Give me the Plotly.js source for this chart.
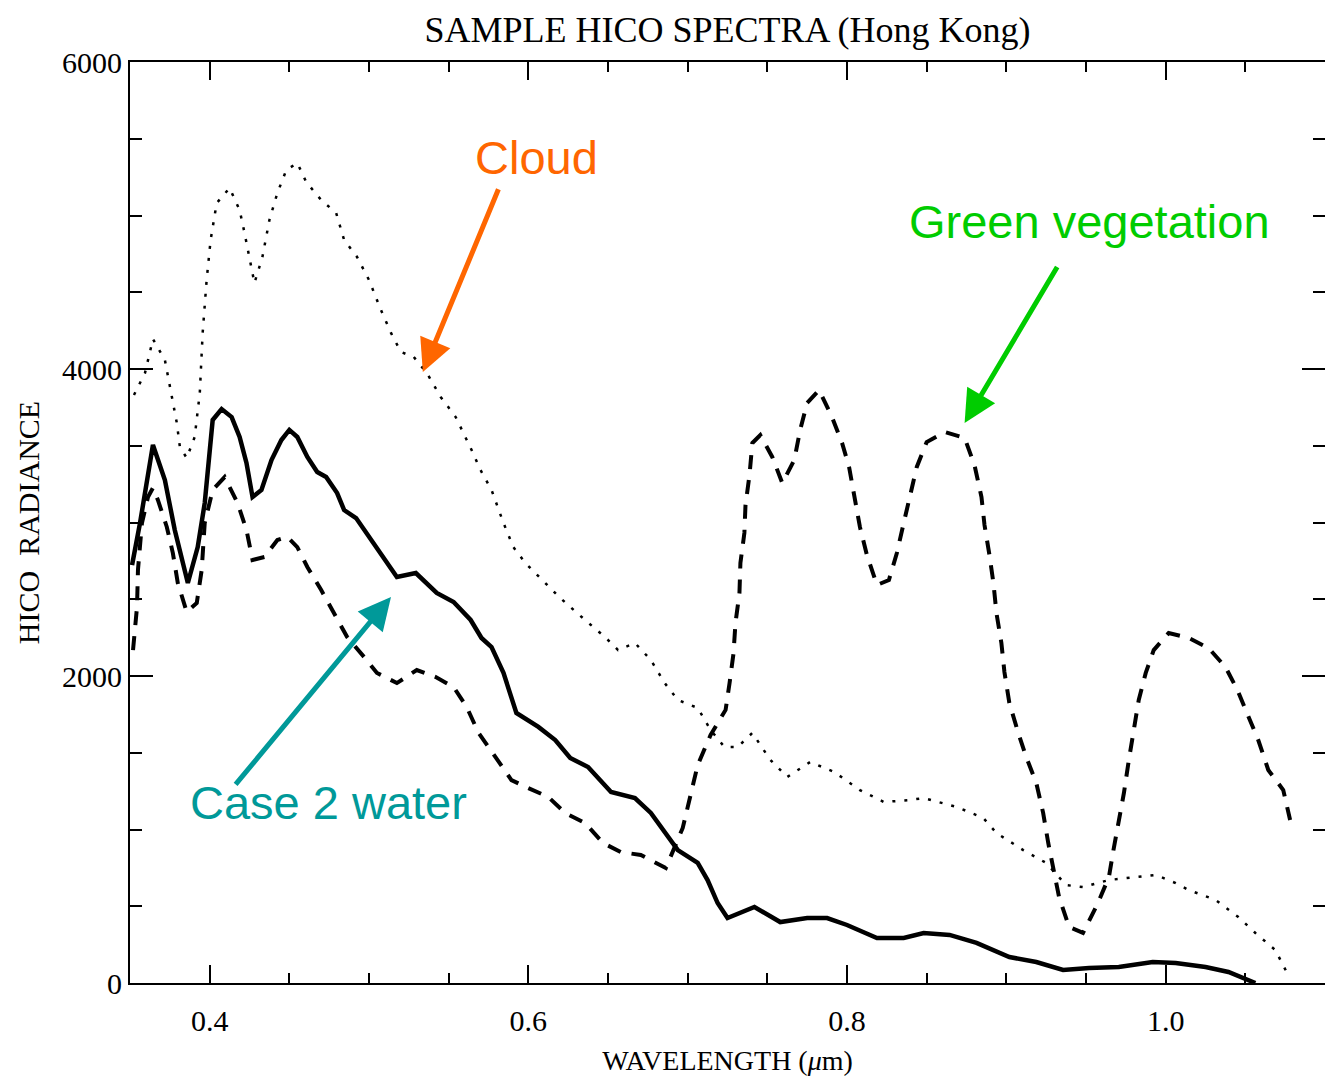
<!DOCTYPE html>
<html>
<head>
<meta charset="utf-8">
<script src="https://cdn.plot.ly/plotly-3.0.1.min.js"></script>
<style>html,body{margin:0;padding:0;background:#fff;}#chart{width:1325px;height:1085px;}</style>
</head>
<body>
<div id="chart"></div>
<script>
// Cloud spectrum (dotted)
const cloudWl = [0.3525,0.3594,0.3644,0.3719,0.3763,0.3794,0.3813,0.3856,0.3906,0.3938,0.3956,0.3981,0.4006,0.4044,0.4125,0.4188,0.4219,0.4263,0.4281,0.4331,0.4375,0.4425,0.4481,0.4550,0.4606,0.4700,0.4794,0.4844,0.4925,0.5000,0.5075,0.5138,0.5200,0.5281,0.5363,0.5450,0.5544,0.5644,0.5700,0.5769,0.5844,0.5906,0.5981,0.6106,0.6200,0.6356,0.6481,0.6563,0.6669,0.6769,0.6856,0.6938,0.7063,0.7144,0.7231,0.7313,0.7406,0.7519,0.7625,0.7769,0.7919,0.8081,0.8231,0.8394,0.8481,0.8688,0.8856,0.8938,0.9106,0.9250,0.9375,0.9481,0.9644,0.9938,1.0063,1.0144,1.0313,1.0456,1.0563,1.0688,1.0769];
const cloudRad = [3831,3974,4195,4059,3818,3648,3492,3420,3557,3844,4235,4580,4840,5081,5179,5036,4886,4645,4560,4730,4971,5147,5296,5342,5218,5101,5016,4840,4730,4580,4384,4235,4111,4078,3974,3818,3687,3472,3342,3212,2997,2840,2736,2606,2508,2365,2254,2169,2215,2104,1954,1844,1792,1648,1537,1537,1629,1453,1342,1440,1375,1257,1179,1192,1205,1147,1075,977,866,782,638,625,671,704,651,606,541,430,326,215,52];

// Case 2 water spectrum (solid)
const waterWl = [0.3513,0.3563,0.3644,0.3719,0.3781,0.3863,0.3925,0.3969,0.4019,0.4075,0.4138,0.4188,0.4231,0.4269,0.4325,0.4388,0.4450,0.4500,0.4550,0.4613,0.4675,0.4731,0.4800,0.4844,0.4919,0.5013,0.5094,0.5175,0.5294,0.5425,0.5531,0.5638,0.5706,0.5769,0.5844,0.5925,0.6063,0.6169,0.6263,0.6375,0.6519,0.6669,0.6769,0.6856,0.6938,0.7063,0.7125,0.7188,0.7250,0.7419,0.7581,0.7750,0.7875,0.8000,0.8188,0.8356,0.8481,0.8644,0.8813,0.9019,0.9188,0.9356,0.9519,0.9706,0.9919,1.0063,1.0250,1.0394,1.0563];
const waterRad = [2723,2997,3505,3277,2951,2606,2840,3127,3668,3739,3687,3557,3388,3166,3212,3407,3537,3603,3557,3427,3329,3296,3192,3081,3029,2886,2775,2645,2671,2541,2482,2365,2248,2189,2020,1759,1668,1583,1466,1407,1244,1205,1108,977,866,782,671,521,423,495,397,423,423,378,293,293,326,313,261,169,137,85,98,104,137,130,104,72,0];

// Green vegetation spectrum (dashed)
const vegWl = [0.3519,0.3544,0.3550,0.3575,0.3613,0.3644,0.3675,0.3731,0.3769,0.3800,0.3856,0.3919,0.3950,0.3969,0.4019,0.4094,0.4175,0.4231,0.4269,0.4344,0.4425,0.4488,0.4550,0.4613,0.4700,0.4781,0.4863,0.4969,0.5050,0.5175,0.5300,0.5419,0.5531,0.5613,0.5688,0.5794,0.5894,0.6000,0.6125,0.6231,0.6356,0.6469,0.6581,0.6706,0.6863,0.6969,0.7063,0.7144,0.7238,0.7263,0.7288,0.7300,0.7325,0.7331,0.7356,0.7363,0.7388,0.7406,0.7456,0.7531,0.7594,0.7669,0.7706,0.7750,0.7825,0.7906,0.7969,0.8013,0.8050,0.8081,0.8125,0.8188,0.8263,0.8313,0.8356,0.8394,0.8438,0.8500,0.8613,0.8738,0.8800,0.8844,0.8863,0.8894,0.8919,0.8938,0.8969,0.8988,0.9019,0.9075,0.9125,0.9188,0.9231,0.9263,0.9294,0.9331,0.9394,0.9481,0.9575,0.9644,0.9669,0.9706,0.9738,0.9769,0.9800,0.9831,0.9875,0.9925,1.0019,1.0144,1.0269,1.0375,1.0450,1.0519,1.0581,1.0644,1.0738,1.0781];
const vegRad = [2169,2450,2691,2997,3166,3225,3147,2971,2801,2606,2417,2476,2691,2997,3212,3296,3127,2951,2756,2775,2886,2906,2840,2710,2560,2410,2254,2124,2020,1954,2039,1993,1928,1798,1629,1472,1322,1270,1212,1108,1042,912,853,834,749,1010,1420,1616,1779,1954,2150,2345,2541,2736,2932,3114,3309,3518,3570,3427,3257,3407,3603,3779,3863,3687,3518,3362,3166,2971,2788,2593,2625,2801,2997,3179,3362,3524,3590,3551,3375,3166,2984,2788,2606,2410,2215,2026,1824,1629,1472,1303,1108,912,736,560,365,326,521,691,847,1042,1238,1453,1648,1844,2020,2169,2280,2248,2182,2059,1909,1733,1583,1388,1257,1062];

const xTickVals = [0.4, 0.6, 0.8, 1.0];
const xTickText = ['0.4', '0.6', '0.8', '1.0'];
const yTickVals = [0, 2000, 4000, 6000];
const yTickText = ['0', '2000', '4000', '6000'];

const labels = [
  {text: 'Cloud', x: 0.605, y: 5381, color: '#FF6600'},
  {text: 'Green vegetation', x: 0.952, y: 4958, color: '#00CC00'},
  {text: 'Case 2 water', x: 0.4744, y: 1173, color: '#009999'}
];
const arrows = [
  {x: 0.5338, y: 3980, ax: 0.5831, ay: 5218, color: '#FF6600'},
  {x: 0.8738, y: 3648, ax: 0.9338, ay: 4697, color: '#00CC00'},
  {x: 0.5138, y: 2515, ax: 0.4144, ay: 1270, color: '#009999'}
];

const serif = 'Liberation Serif, Times New Roman, serif';
const sans = 'Liberation Sans, Arial, sans-serif';

const traces = [
  {x: cloudWl, y: cloudRad, type: 'scatter', mode: 'lines', name: 'Cloud',
   line: {color: '#000', width: 2.5, dash: '3px,9px'}},
  {x: waterWl, y: waterRad, type: 'scatter', mode: 'lines', name: 'Case 2 water',
   line: {color: '#000', width: 4.5}},
  {x: vegWl, y: vegRad, type: 'scatter', mode: 'lines', name: 'Green vegetation',
   line: {color: '#000', width: 4, dash: '14px,11px'}}
];

const annotations = [];
labels.forEach(l => annotations.push({
  x: l.x, y: l.y, xref: 'x', yref: 'y', text: l.text, showarrow: false,
  font: {family: sans, size: 47, color: l.color}, xanchor: 'center', yanchor: 'middle'
}));
arrows.forEach(a => annotations.push({
  x: a.x, y: a.y, ax: a.ax, ay: a.ay, xref: 'x', yref: 'y', axref: 'x', ayref: 'y',
  text: ' ', showarrow: true, arrowhead: 2, arrowsize: 1.3, arrowwidth: 5,
  arrowcolor: a.color, standoff: 0, startstandoff: 0
}));

const layout = {
  width: 1325, height: 1085,
  margin: {l: 130, r: 0, t: 62, b: 102, pad: 0},
  paper_bgcolor: '#fff', plot_bgcolor: '#fff',
  showlegend: false,
  title: {text: 'SAMPLE HICO SPECTRA (Hong Kong)', font: {family: serif, size: 36, color: '#000'},
          x: 0.5, xref: 'paper', y: 0.973, yref: 'container', xanchor: 'center', yanchor: 'middle'},
  xaxis: {
    range: [0.35, 1.1], showgrid: false, zeroline: false,
    showline: true, linecolor: '#000', linewidth: 2, mirror: 'allticks',
    ticks: 'inside', ticklen: 18, tickwidth: 2, tickcolor: '#000',
    tickvals: xTickVals, ticktext: xTickText, ticklabelstandoff: 10,
    tickfont: {family: serif, size: 30, color: '#000'},
    minor: {dtick: 0.05, tick0: 0.35, ticks: 'inside', ticklen: 10, tickwidth: 2, tickcolor: '#000', showgrid: false},
    title: {text: 'WAVELENGTH (<i>μ</i>m)', font: {family: serif, size: 28, color: '#000'}, standoff: 14}
  },
  yaxis: {
    range: [0, 6000], showgrid: false, zeroline: false,
    showline: true, linecolor: '#000', linewidth: 2, mirror: 'allticks',
    ticks: 'inside', ticklen: 23, tickwidth: 2, tickcolor: '#000',
    tickvals: yTickVals, ticktext: yTickText,
    tickfont: {family: serif, size: 30, color: '#000'},
    minor: {dtick: 500, tick0: 0, ticks: 'inside', ticklen: 12, tickwidth: 2, tickcolor: '#000', showgrid: false},
    title: {text: 'HICO\u00a0\u00a0RADIANCE', font: {family: serif, size: 30, color: '#000'}, standoff: 14}
  },
  annotations: annotations
};

Plotly.newPlot('chart', traces, layout, {displayModeBar: false, staticPlot: true});
</script>
</body>
</html>
